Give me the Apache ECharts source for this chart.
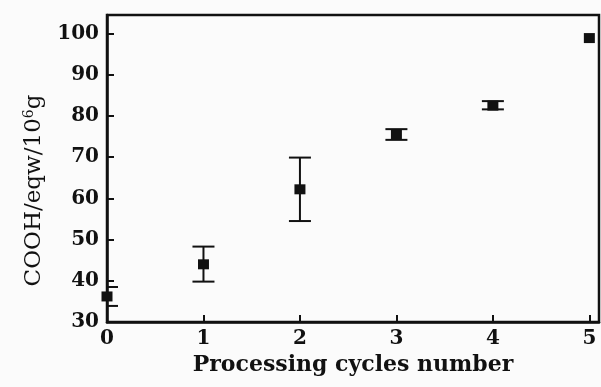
<!DOCTYPE html>
<html>
<head>
<meta charset="utf-8">
<script src="https://cdn.jsdelivr.net/npm/echarts@6/dist/echarts.min.js"></script>
<style>
  html, body { margin: 0; padding: 0; background: #fbfbfb; }
  #chart { width: 601px; height: 387px; }
</style>
</head>
<body>
<div id="chart"></div>
<script>
// Carboxyl content after each processing cycle (mean with error range)
const cycles = [0, 1, 2, 3, 4, 5];
const cooh = [36.2, 44.0, 62.2, 75.6, 82.5, 98.9];
const coohUpper = [38.5, 48.3, 69.9, 76.8, 83.6, null];
const coohLower = [33.9, 39.8, 54.5, 74.2, 81.6, null];
const yTicks = [30, 40, 50, 60, 70, 80, 90, 100];

const serif = '"DejaVu Serif", "Liberation Serif", serif';
const ink = '#111';

const chart = echarts.init(document.getElementById('chart'), null, { renderer: 'canvas' });

const errData = cycles.map((c, i) => [c, coohLower[i], coohUpper[i]])
  .filter(d => d[1] != null && d[2] != null);

chart.setOption({
  backgroundColor: '#fbfbfb',
  animation: false,
  grid: {
    left: 107, right: 2, top: 15, bottom: 65,
    show: true, borderColor: ink, borderWidth: 2.5,
    backgroundColor: 'transparent'
  },
  xAxis: {
    type: 'value',
    min: 0, max: 5.1, interval: 1,
    splitLine: { show: false },
    axisLine: { show: true, onZero: false, lineStyle: { color: ink, width: 2.5 } },
    axisTick: { show: true, inside: true, length: 7, lineStyle: { color: ink, width: 2 } },
    axisLabel: {
      showMaxLabel: false, margin: 7,
      color: ink, fontFamily: serif, fontWeight: 'bold', fontSize: 20
    },
    name: 'Processing cycles number',
    nameLocation: 'middle', nameGap: 32,
    nameTextStyle: { color: ink, fontFamily: serif, fontWeight: 'bold', fontSize: 22 }
  },
  yAxis: {
    type: 'value',
    min: 30, max: 104.5, interval: 10,
    splitLine: { show: false },
    axisLine: { show: true, onZero: false, lineStyle: { color: ink, width: 2.5 } },
    axisTick: { show: true, inside: true, length: 7, lineStyle: { color: ink, width: 2 } },
    axisLabel: {
      showMaxLabel: false, margin: 8,
      color: ink, fontFamily: serif, fontWeight: 'bold', fontSize: 20,
      formatter: v => (yTicks.indexOf(v) >= 0 ? String(v) : '')
    },
    name: '{a|COOH/eqw/10}{s|6}{a|g}',
    nameLocation: 'middle', nameGap: 60, nameRotate: 90,
    nameTextStyle: {
      padding: [0, 44, 0, 0],
      rich: {
        a: { color: ink, fontFamily: serif, fontSize: 23 },
        s: { color: ink, fontFamily: serif, fontSize: 14, verticalAlign: 'top', padding: [0, 0, 11, 0] }
      }
    }
  },
  series: [
    {
      type: 'custom',
      name: 'range',
      data: errData,
      clip: true,
      z: 2,
      renderItem: function (params, api) {
        const x = api.value(0);
        const lo = api.coord([x, api.value(1)]);
        const hi = api.coord([x, api.value(2)]);
        const half = 11;
        const style = { stroke: ink, lineWidth: 2 };
        return {
          type: 'group',
          children: [
            { type: 'line', shape: { x1: lo[0], y1: lo[1], x2: hi[0], y2: hi[1] }, style: style },
            { type: 'line', shape: { x1: lo[0] - half, y1: lo[1], x2: lo[0] + half, y2: lo[1] }, style: style },
            { type: 'line', shape: { x1: hi[0] - half, y1: hi[1], x2: hi[0] + half, y2: hi[1] }, style: style }
          ]
        };
      }
    },
    {
      type: 'scatter',
      name: 'COOH',
      data: cycles.map((c, i) => [c, cooh[i]]),
      symbol: 'rect',
      symbolSize: [11, 10],
      itemStyle: { color: ink, opacity: 1 },
      z: 3
    }
  ]
});
</script>
</body>
</html>
